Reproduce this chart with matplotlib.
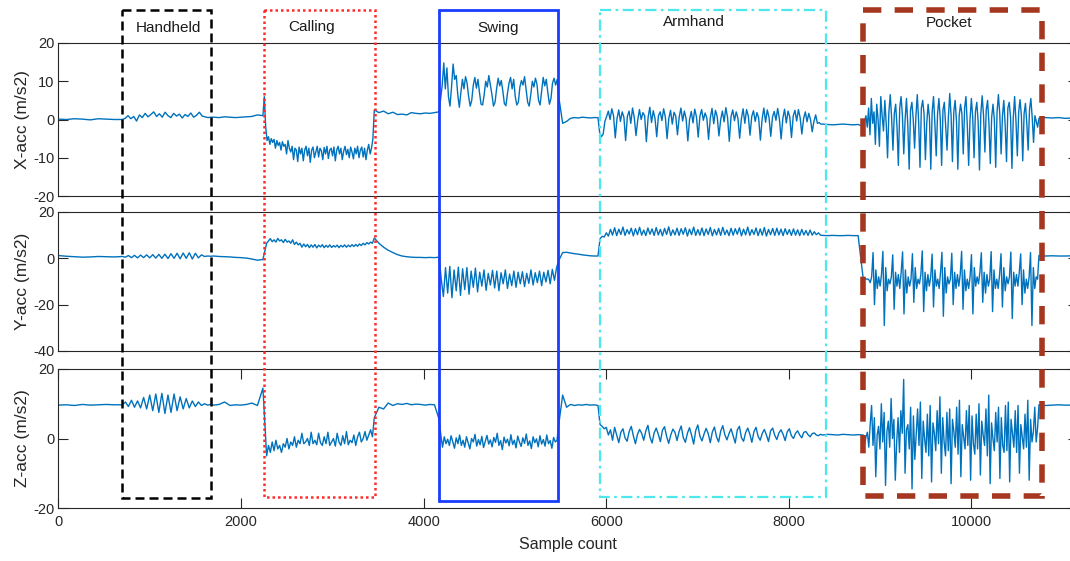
import numpy as np
import matplotlib
matplotlib.use("Agg")
import matplotlib.pyplot as plt
from matplotlib.patches import Rectangle

plt.rcParams['font.family'] = ['Liberation Sans', 'DejaVu Sans']
plt.rcParams['axes.unicode_minus'] = False

# ---------------- data (sample-count segment bounds and readings) ----------------
BOUNDS = [0, 700, 1700, 2240, 3460, 4170, 5480, 5910, 8370, 8815, 10740, 11100]
ACTIVITIES = ["Handheld", "Calling", "Swing", "Armhand", "Pocket"]
X_TICKS = [0, 2000, 4000, 6000, 8000, 10000]

# X-acc
X_STILL_A = [0.1, 0.0, 0.2, 0.1, -0.1, 0.2, 0.1, 0.0]
X_HANDHELD = [0.0, 0.3, 1.0, 0.2, 0.8, -0.4, 1.2, 0.5, 1.6, 0.7, 1.3, 2.0, 0.8, 1.5, 0.6, 1.9,
              1.0, 0.5, 1.6, 0.9, 1.4, 0.4, 1.3, 0.8, 1.7, 0.6, 1.1, 1.9, 0.9, 0.7, 0.5, 0.6]
X_STILL_B = [0.6, 0.5, 0.7, 0.6, 0.5, 0.6, 0.7, 0.8, 1.2]
X_CALLING = [1.0, 6.0, -2.0, -5.5, -4.5, -6.5, -5.0, -6.0, -5.2, -7.5, -5.5, -6.8, -6.0, -8.0, -5.8, -7.0,
             -6.5, -9.0, -5.5, -7.5, -8.5, -7.0, -10.5, -7.5, -8.0, -11.0, -7.2, -9.0, -7.5, -10.8, -8.0,
             -7.0, -9.5, -7.5, -11.2, -8.0, -7.2, -10.0, -8.5, -7.0, -9.8, -7.5, -8.2, -10.5, -7.3, -9.0,
             -7.0, -10.2, -8.0, -7.5, -9.5, -7.2, -10.8, -8.0, -7.0, -9.0, -7.5, -10.5, -8.3, -7.0, -9.2,
             -7.8, -10.0, -7.2, -8.5, -10.3, -7.5, -9.0, -7.0, -10.0, -8.0, -7.2, -9.8, -7.5, -10.5, -8.0,
             -6.5, -9.0, -7.5, -5.0]
X_STILL_C = [2.5, 1.8, 2.2, 1.5, 1.9, 1.3, 1.4, 1.2, 1.8, 1.6, 1.5, 1.7, 1.6, 1.8]
X_SWING = [2.0, 5.5, 9.0, 14.8, 8.0, 13.5, 6.0, 3.5, 8.5, 14.5, 10.5, 11.5, 6.5, 3.2,
           7.0, 10.5, 8.0, 11.2, 9.5, 6.0, 3.5, 5.0, 9.0, 11.0, 8.2, 10.5, 7.0, 4.0, 3.8, 6.5,
           10.0, 8.5, 11.5, 9.0, 6.5, 3.5, 4.5, 8.0, 10.8, 8.8, 10.2, 7.5, 4.2, 3.6, 6.8, 9.5,
           11.0, 8.0, 10.5, 6.0, 3.8, 4.5, 8.5, 10.2, 9.0, 11.2, 7.8, 4.5, 3.5, 6.5, 10.0, 8.5,
           10.8, 9.2, 5.0, 3.8, 7.5, 11.0, 8.8, 10.5, 7.0, 4.0, 5.5, 9.5, 10.8, 9.0, 10.5]
X_STILL_D = [6.0, -1.0, -0.5, 0.3, 0.5, 0.4, 0.6, 0.5, 0.4, 0.5]
X_ARMHAND = [0.5, -3.5, -4.5, -3.8, -0.5, 0.8, 2.2, 0.0, 2.8, 1.0,
             -4.8, 0.2, 2.5, -0.5, 2.0, 0.6, -5.5, 0.8, 2.2, -1.0, 3.0, 0.5,
             -4.2, -0.2, 2.6, 0.0, 1.8, 1.0, -5.8, 0.5, 3.2, -0.8, 2.3, 0.3,
             -4.5, 1.0, 2.0, -0.3, 2.8, 0.6, -5.0, 0.3, 2.4, -1.2, 1.9, 0.9,
             -4.0, 0.6, 3.0, -0.4, 2.2, 0.2, -5.6, 0.0, 2.1, -0.9, 2.7, 0.7,
             -4.6, 0.9, 2.6, -0.2, 1.7, 0.4, -5.2, 0.4, 2.9, -1.1, 2.4, 0.8,
             -4.3, -0.1, 2.2, -0.6, 3.1, 0.5, -5.7, 0.7, 2.5, -0.3, 2.0, 0.3,
             -4.9, 0.2, 2.8, -1.0, 2.6, 0.9, -4.1, 0.8, 2.3, -0.5, 1.8, 0.4,
             -5.4, 0.1, 3.0, -0.7, 2.5, 0.6, -4.4, 0.6, 2.1, -0.2, 2.9, 0.2,
             -5.1, 0.3, 2.7, -0.9, 2.2, 0.7, -4.7, 0.9, 2.4, -0.4, 2.6, 0.5,
             -3.8, 0.2, 2.0, -0.6, 1.6, 0.0, -3.2, -0.5, 1.2, -1.0, -0.8, -1.2]
X_STILL_E = [-1.2, -1.3, -1.4, -1.3, -1.2, -1.3, -1.4, -1.3]
X_POCKET = [-1.8, -0.5, 1.0, -2.0, 3.0, -4.0, 5.5, -1.0, 2.0, -6.5, 4.0, 0.0, -7.0, 6.0, 1.0, -3.0,
            5.0, -1.0, -10.0, 2.0, 6.5, 0.5, -8.0, 1.5, 4.0, -2.0, -12.0, 3.0, 6.0, 1.0, -9.0, 0.0,
            5.5, -1.5, -13.0, 2.5, 4.5, 0.0, -7.5, 1.0, 6.5, -0.5, -12.5, 3.0, 5.0, 1.5, -10.5, -1.0,
            4.0, 0.5, -13.0, 2.0, 6.0, -1.0, -9.5, 1.5, 5.5, 0.0, -12.0, 2.5, 4.5, -2.0, -8.0, 0.5,
            6.8, 1.0, -11.0, 2.0, 5.0, -0.5, -13.0, 1.0, 4.0, 1.5, -9.0, 3.0, 6.0, -1.5, -12.0, 0.0,
            5.5, 0.5, -10.0, 2.0, 4.5, -0.5, -13.2, 1.5, 6.2, 1.0, -8.5, 2.5, 5.0, -1.0, -11.5, 0.5,
            4.0, 0.0, -12.5, 2.0, 6.5, 1.5, -9.0, 1.0, 5.0, -1.5, -11.0, 3.0, 4.5, 0.5, -12.8, 0.5,
            6.0, -0.5, -9.5, 2.0, 5.2, 1.0, -10.8, 1.5, 4.2, -1.0, -8.0, 2.5, 5.5, 0.5, -6.0, 1.0,
            -0.5, -2.0]
X_STILL_F = [0.3, 0.5, 0.4, 0.5, 0.3, 0.4]

# Y-acc
Y_STILL_A = [1.2, 0.9, 0.7, 0.5, 0.6, 0.8, 0.7, 0.6]
Y_HANDHELD = [0.8, 0.5, 1.2, 0.3, 1.3, 0.2, 1.4, 0.3, 1.5, 0.2, 1.6, 0.1, 1.7, 0.0, 1.8, -0.1,
              2.0, 0.0, 2.2, -0.2, 2.3, 0.0, 2.4, -0.3, 2.2, 0.2, 1.5, 0.8, 1.0, 0.9]
Y_STILL_B = [1.0, 0.8, 0.7, 0.6, 0.4, 0.3, 0.1, -0.3, -0.8]
Y_CALLING = [-0.5, 3.0, 6.5, 7.5, 8.5, 7.2, 8.0, 7.0, 8.6, 7.5, 8.0, 6.8, 8.2, 7.0, 7.5, 6.5, 8.0,
             6.0, 7.0, 5.8, 6.5, 4.8, 6.2, 5.0, 6.0, 4.6, 5.8, 4.8, 6.0, 4.5, 5.7, 4.9, 5.9, 4.6,
             5.6, 4.8, 5.8, 4.7, 5.5, 4.9, 5.7, 4.6, 5.6, 4.9, 5.8, 4.8, 5.7, 5.0, 5.9, 5.1, 6.0,
             5.2, 6.2, 5.5, 6.5, 5.8, 6.8, 6.2, 7.0, 6.5]
Y_STILL_C = [8.8, 6.5, 4.8, 3.5, 2.5, 1.6, 1.0, 0.7, 0.5, 0.4, 0.4, 0.3, 0.4, 0.3]
Y_SWING = [0.5, -9.0, -16.5, -4.0, -15.0, -3.5, -17.0, -5.0, -14.0, -3.8, -16.0, -4.5, -13.5,
           -4.0, -15.5, -5.5, -12.5, -4.2, -14.5, -6.0, -12.0, -5.0, -13.8, -6.5, -11.5, -5.2,
           -12.8, -5.5, -14.0, -6.2, -11.0, -5.0, -13.0, -6.8, -11.8, -5.5, -12.5, -6.0, -11.0,
           -5.8, -12.2, -6.5, -10.8, -5.0, -11.5, -6.2, -10.5, -5.5, -11.8, -6.0, -10.2, -5.2,
           -11.0, -4.8, -9.5, -4.0]
Y_STILL_D = [-1.0, 2.5, 2.6, 2.3, 2.0, 1.8, 1.5, 1.3, 1.1, 1.0]
Y_ARMHAND = [1.0, 8.5, 9.5, 9.2, 11.0, 9.6, 12.5, 10.0, 13.2, 9.8, 12.6, 10.3, 13.5, 9.9, 12.4,
             10.5, 13.0, 9.7, 12.8, 10.2, 13.4, 10.0, 12.2, 9.8, 13.1, 10.4, 12.7, 9.9, 13.3, 10.1,
             12.5, 9.7, 12.9, 10.3, 13.6, 9.8, 12.3, 10.1, 13.0, 9.9, 12.8, 10.4, 13.2, 9.6, 12.6,
             10.2, 13.5, 9.9, 12.4, 10.0, 13.1, 9.8, 12.7, 10.3, 13.3, 9.7, 12.5, 10.1, 12.9, 9.9,
             13.4, 10.2, 12.2, 9.8, 13.0, 10.0, 12.8, 10.4, 13.2, 9.7, 12.6, 10.1, 13.5, 9.9, 12.4,
             10.3, 13.1, 9.8, 12.7, 10.0, 13.3, 9.6, 12.5, 10.2, 12.9, 9.9, 13.0, 10.1, 12.6, 9.8,
             12.8, 10.3, 12.4, 9.9, 12.7, 10.0, 12.3, 9.8, 12.5, 10.1, 12.0, 9.9, 12.2, 10.0, 11.5,
             10.2, 11.0, 10.0]
Y_STILL_E = [9.9, 9.8, 9.9, 9.8, 9.8, 9.9, 9.8, 9.8]
Y_POCKET = [-8.8, -8.8, -9.0, -8.9, -9.2, -10.5,
            -8, 2.5, -20, -5, -13, -8, -12, -7, 3.0, -29, -4, -14, -9, -11,
            -8, 1.5, -22, -6, -12, -7, -13, -6, 2.8, -24, -5, -15, -8, -12,
            -9, 2.0, -19, -4, -13, -9, -11, -7, 3.2, -23, -6, -14, -7, -12,
            -8, 1.8, -21, -5, -12, -9, -13, -6, 2.6, -25, -4, -15, -8, -11,
            -9, 2.2, -20, -6, -13, -7, -12, -7, 3.0, -22, -5, -14, -9, -13,
            -8, 1.6, -24, -4, -12, -8, -11, -6, 2.4, -19, -6, -15, -7, -12,
            -9, 2.9, -23, -5, -13, -9, -13, -7, 2.0, -21, -4, -14, -8, -11,
            -8, 2.7, -26, -6, -12, -7, -12, -6, 1.9, -20, -5, -15, -9, -13,
            -8, 2.5, -29, -4, -13, -8, -9]
Y_STILL_F = [1.2, 1.0, 1.1, 1.0, 1.0, 1.1]

# Z-acc
Z_STILL_A = [9.6, 9.7, 9.5, 9.8, 9.6, 9.7, 9.8, 9.7]
Z_HANDHELD = [9.7, 10.5, 9.2, 11.0, 9.0, 10.8, 8.8, 11.8, 8.5, 12.5, 8.0, 12.8, 7.5, 13.0, 7.2,
              12.5, 7.5, 12.8, 8.0, 12.0, 8.5, 11.5, 8.8, 10.8, 9.2, 10.5, 9.5, 10.0, 9.6, 9.8]
Z_STILL_B = [9.6, 9.8, 10.5, 9.5, 9.7, 9.6, 9.8, 10.2, 9.5]
Z_CALLING = [14.5, 5.0, -5.0, -2.0, -4.0, -1.0, -3.5, -0.5, -3.0, -2.0, -4.0, -1.5, -2.5, 0.0,
             -3.0, -1.0, -2.0, 0.5, -2.5, -0.5, -1.5, 1.5, -1.5, -1.0, 0.0, -2.0, 1.8, -1.5, -0.5,
             -1.8, 1.5, -1.2, -2.0, 0.5, -1.5, 1.8, -2.0, -1.0, 0.0, -2.2, 1.5, -1.0, -2.0, 0.8,
             -1.5, 2.0, -1.8, -0.5, -1.2, 1.0, -2.0, 0.5, 1.8, -1.0, 0.0, 2.0, -0.5, 1.0, 2.5, 0.5]
Z_STILL_C = [6.0, 9.0, 8.5, 10.2, 9.5, 10.0, 9.8, 10.1, 9.7, 9.9, 9.8, 9.6, 9.8, 9.7]
Z_SWING = [5.5, 1.0, -2.5, 0.5, -1.5, -0.2, -2.0, 0.8, -1.0, -2.8, 0.2, -1.5, 1.0, -2.0, -0.5,
           -2.5, 0.5, -1.2, -3.0, 0.0, -1.0, 1.2, -2.2, -0.3, -1.8, 0.6, -2.6, -0.8, 0.9, -1.6,
           -0.4, -2.4, 0.3, -1.1, 1.5, -2.0, -0.6, -3.2, 0.4, -1.3, -0.2, -2.1, 1.1, -1.7, -0.5,
           -2.7, 0.7, -1.0, -2.3, 0.2, -1.4, 1.3, -2.0, -0.7, -2.9, 0.5, -1.2, -0.1, -2.4, 0.8,
           -1.6, -0.3, -2.2, 1.0, -1.5, -0.6, -2.8, 0.3, -1.0, -0.5]
Z_STILL_D = [4.0, 12.5, 9.0, 9.8, 9.5, 9.7, 9.6, 9.8, 9.6, 9.7]
Z_ARMHAND = [9.5, 4.0, 3.5, 2.8, 3.2, 1.0, 2.5, -0.5,
             3.2, 1.0, -1.2, 1.8, 2.8, 0.2, -0.8, 2.0, 3.5, 0.8, -1.5, 1.2, 2.6, 1.5, -0.5, 2.2,
             3.8, 0.4, -1.3, 1.6, 3.0, 1.2, -0.9, 2.4, 3.4, 0.6, -1.4, 1.0, 2.7, 1.8, -0.6, 2.0,
             3.6, 0.3, -1.1, 1.5, 3.1, 1.0, -1.6, 2.3, 3.9, 0.7, -0.7, 1.3, 2.9, 1.4, -1.2, 1.9,
             3.3, 0.5, -1.0, 2.1, 3.7, 1.1, -0.4, 1.4, 2.8, 0.8, -1.3, 2.5, 3.5, 0.2, -0.8, 1.7,
             3.0, 1.3, -1.1, 2.0, 3.2, 0.6, -0.5, 1.5, 2.6, 1.0, -0.9, 2.2, 3.0, 0.9, -0.3, 1.6,
             2.5, 1.2, -0.6, 1.9, 2.8, 0.8, 0.0, 1.5, 2.2, 1.0, 0.2, 1.8, 2.0, 1.1, 0.5, 1.4,
             1.6, 1.0, 0.8, 1.2]
Z_STILL_E = [1.0, 1.2, 1.1, 1.0, 1.2, 1.1, 1.0, 1.1]
Z_POCKET = [1.0, -1.5, 0.5, 1.8, -2.5,
            4.0, 9.5, -2.0, 6.0, -11.0, 1.0, 3.5, -3.0, 10.0, -1.0, 7.5, -13.5, 2.0, 5.0,
            -2.5, 11.5, 0.0, 5.5, -12.0, -1.0, 6.0, -4.0, 8.0, 1.5, 17.0, -10.0, 2.5, 4.0,
            -3.0, 9.0, -14.5, 6.5, -6.0, 1.0, 8.5, -2.0, 10.5, -11.5, 5.0, 0.0, -4.0, 7.0,
            -5.0, 9.5, -12.5, 4.5, 1.5, -3.5, 8.0, -1.5, 12.0, -10.0, 6.0, -1.0, -5.0, 7.5,
            -3.5, 8.5, -13.0, 5.5, 2.0, -2.5, 9.0, -4.5, 11.0, -11.0, 4.0, 0.5, -3.0, 8.0,
            -2.0, 9.5, -12.0, 6.5, -1.5, -4.5, 7.0, -3.0, 10.0, -10.5, 5.0, 1.0, -2.0, 8.5,
            -5.0, 12.5, -13.0, 4.5, 0.0, -3.5, 7.5, -1.0, 9.0, -11.5, 6.0, -2.0, -4.0, 9.5,
            -3.5, 10.5, -12.5, 5.5, 1.5, -2.5, 8.0, -4.0, 9.5, -10.0, 4.0, 0.5, -3.0, 7.0,
            -2.5, 11.0, -12.0, 5.5, -1.0, 2.0, 9.0, -1.0, 3.0]
Z_STILL_F = [9.7, 9.5, 9.6, 9.7, 9.6, 9.6]

X_SEGMENTS = [X_STILL_A, X_HANDHELD, X_STILL_B, X_CALLING, X_STILL_C, X_SWING,
              X_STILL_D, X_ARMHAND, X_STILL_E, X_POCKET, X_STILL_F]
Y_SEGMENTS = [Y_STILL_A, Y_HANDHELD, Y_STILL_B, Y_CALLING, Y_STILL_C, Y_SWING,
              Y_STILL_D, Y_ARMHAND, Y_STILL_E, Y_POCKET, Y_STILL_F]
Z_SEGMENTS = [Z_STILL_A, Z_HANDHELD, Z_STILL_B, Z_CALLING, Z_STILL_C, Z_SWING,
              Z_STILL_D, Z_ARMHAND, Z_STILL_E, Z_POCKET, Z_STILL_F]


def build(segs):
    xs, ys = [], []
    for i, vals in enumerate(segs):
        last = i == len(segs) - 1
        xs.append(np.linspace(BOUNDS[i], BOUNDS[i + 1], len(vals), endpoint=last))
        ys.append(np.asarray(vals, dtype=float))
    return np.concatenate(xs), np.concatenate(ys)


# ---------------- layout ----------------
W, H = 1070, 561
fig = plt.figure(figsize=(W / 100, H / 100), dpi=100)
PX_PER_SAMPLE = 0.0913
X0_PX = 58.4
RIGHT_PX = 1078
XMAX = (RIGHT_PX - X0_PX) / PX_PER_SAMPLE
left = X0_PX / W
width = (RIGHT_PX - X0_PX) / W
ax_w_px = RIGHT_PX - X0_PX

panels = [
    (X_SEGMENTS, "X-acc (m/s2)", (-20, 20), [-20, -10, 0, 10, 20], 43, 196),
    (Y_SEGMENTS, "Y-acc (m/s2)", (-40, 20), [-40, -20, 0, 20], 212, 351),
    (Z_SEGMENTS, "Z-acc (m/s2)", (-20, 20), [-20, 0, 20], 369, 508),
]
LINE_COLOR = "#0072BD"
AX_COLOR = "#262626"

axes = []
for k, (segs, lab, ylim, yt, ptop, pbot) in enumerate(panels):
    ax = fig.add_axes([left, 1 - pbot / H, width, (pbot - ptop) / H])
    xs, ys = build(segs)
    ax.plot(xs, ys, color=LINE_COLOR, lw=1.0)
    ax.set_xlim(0, XMAX)
    ax.set_ylim(*ylim)
    ax.set_yticks(yt)
    ax.set_ylabel(lab, fontsize=12.5, color=AX_COLOR)
    ax.yaxis.set_label_coords((30 - X0_PX) / ax_w_px, 0.5)
    for s in ["top", "left", "bottom"]:
        ax.spines[s].set_color(AX_COLOR)
        ax.spines[s].set_linewidth(0.8)
    ax.spines["right"].set_visible(False)
    ax.tick_params(axis="y", direction="in", length=7.5, width=0.8, colors=AX_COLOR,
                   labelsize=10.5, left=True, right=True, pad=3)
    if k < 2:
        ax.set_xticks([])
    else:
        ax.set_xticks(X_TICKS)
        ax.tick_params(axis="x", direction="in", length=7.5, width=0.8, colors=AX_COLOR,
                       labelsize=10.5, top=True, bottom=True, pad=5)
        ax.set_xlabel("Sample count", fontsize=11.5, color=AX_COLOR, labelpad=6)
    axes.append(ax)

# overlay for activity boxes: x in samples, y in pixels
ov = fig.add_axes([left, 0, width, 1], zorder=10)
ov.set_xlim(0, XMAX)
ov.set_ylim(H, 0)
ov.axis("off")
ov.patch.set_alpha(0)

box_specs = [
    (697, 1671, 10, 498, "black", (0, (3.6, 2.0)), 1.8, 1200, 28),
    (2252, 3468, 10, 497, "#ff2a2a", (0, (1, 1.2)), 1.8, 2778, 27),
    (4169, 5472, 10, 501, "#1a3cff", "-", 2.0, 4815, 28),
    (5932, 8407, 10, 497, "#4de8ee", (0, (5, 2, 1.2, 2)), 1.6, 6961, 22),
    (8813, 10774, 10, 496, "#a5361f", (0, (3.3, 2.4)), 4.0, 9754, 23),
]
for (x0, x1, y0, y1, col, ls, lw, tx, ty), name in zip(box_specs, ACTIVITIES):
    ov.add_patch(Rectangle((x0, y0), x1 - x0, y1 - y0, fill=False, edgecolor=col,
                           linestyle=ls, linewidth=lw))
    ov.text(tx, ty, name, ha="center", va="center", fontsize=11, color="#1a1a1a")

fig.savefig("out.png", dpi=100)
